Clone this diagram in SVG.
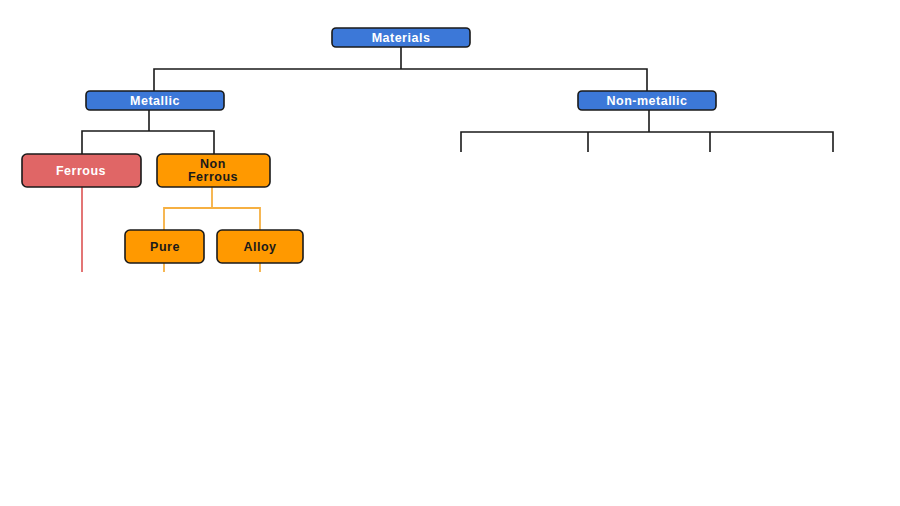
<svg xmlns="http://www.w3.org/2000/svg" width="900" height="506" viewBox="0 0 900 506">
<style>
.box{stroke:#1a1a1a;stroke-width:1.6}
.blue{fill:#3c78d8}
.red{fill:#e06666}
.orange{fill:#ff9900}
.t{font-family:"Liberation Sans",Arial,sans-serif;font-weight:bold;font-size:12.5px;letter-spacing:0.5px;text-anchor:middle}
.w{fill:#ffffff}
.d{fill:#1a1a1a}
.k{fill:none;stroke:#1a1a1a;stroke-width:1.6}
.o{fill:none;stroke:#f6b042;stroke-width:1.8}
.r{fill:none;stroke:#e06666;stroke-width:1.8}
</style>
<rect width="900" height="506" fill="#ffffff"/>
<g id="connectors">
<path class="k" d="M401 47V69M154 91V69H647V91"/>
<path class="k" d="M149 110V131M82 154V131H214V154"/>
<path class="k" d="M649 110V132M461 152V132H833V152M588 132V152M710 132V152"/>
<path class="r" d="M82 187V272"/>
<path class="o" d="M212 187V208M164 230V208H260V230"/>
<path class="o" d="M164 263V272M260 263V272"/>
</g>
<g id="materials"><rect class="box blue" x="332" y="28" width="138" height="19" rx="4"/><text class="t w" x="401" y="42">Materials</text></g>
<g id="metallic"><rect class="box blue" x="86" y="91" width="138" height="19" rx="4"/><text class="t w" x="155" y="105">Metallic</text></g>
<g id="nonmetallic"><rect class="box blue" x="578" y="91" width="138" height="19" rx="4"/><text class="t w" x="647" y="105">Non-metallic</text></g>
<g id="ferrous"><rect class="box red" x="22" y="154" width="119" height="33" rx="5"/><text class="t w" x="81" y="175">Ferrous</text></g>
<g id="nonferrous"><rect class="box orange" x="157" y="154" width="113" height="33" rx="5"/><text class="t d" x="213" y="168">Non</text><text class="t d" x="213" y="181">Ferrous</text></g>
<g id="pure"><rect class="box orange" x="125" y="230" width="79" height="33" rx="5"/><text class="t d" x="165" y="251">Pure</text></g>
<g id="alloy"><rect class="box orange" x="217" y="230" width="86" height="33" rx="5"/><text class="t d" x="260" y="251">Alloy</text></g>
</svg>
